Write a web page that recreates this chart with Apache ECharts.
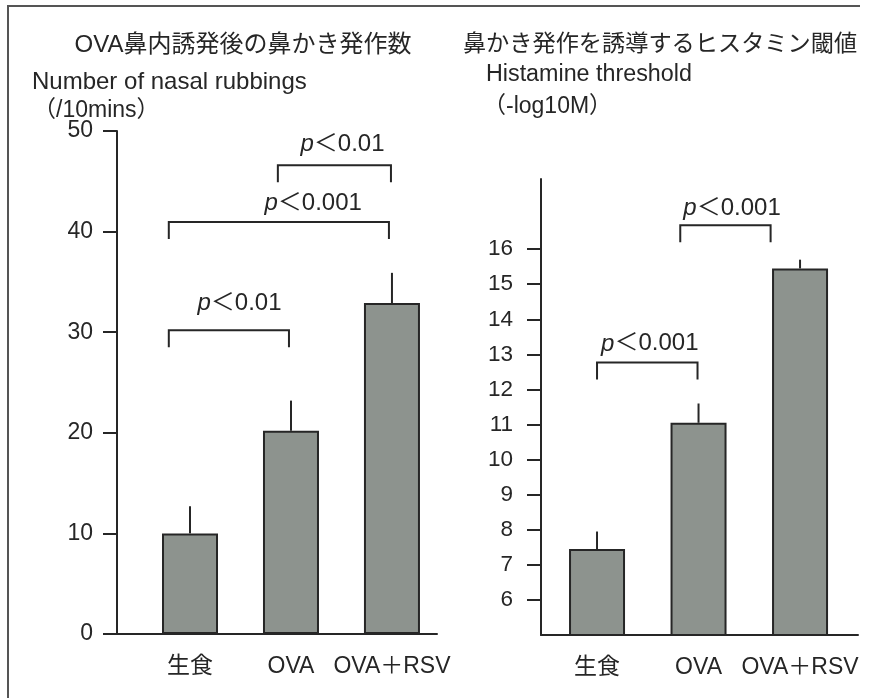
<!DOCTYPE html>
<html>
<head>
<meta charset="utf-8">
<script src="https://cdn.jsdelivr.net/npm/echarts@6/dist/echarts.min.js"></script>
<style>
  html, body { margin: 0; padding: 0; background: #ffffff; }
  #chart { width: 873px; height: 698px; }
</style>
</head>
<body>
<div id="chart"></div>
<script>
// Groups on the horizontal axis
const categories = ['生食', 'OVA', 'OVA＋RSV'];

// Nasal rubbings per 10 min: bar height and top of error whisker
const rubbingMean  = [10.0, 20.2, 32.9];
const rubbingUpper = [12.7, 23.2, 35.9];

// Histamine threshold (-log10 M): bar height and top of error whisker
const histMean  = [7.45, 11.05, 15.45];
const histUpper = [7.95, 11.6, 15.7];

// Tick labels
const rubbingTicks = [0, 10, 20, 30, 40, 50];
const histTicks = [6, 7, 8, 9, 10, 11, 12, 13, 14, 15, 16];

// Significance brackets: [left end, right end, bracket level, label x, label y, p text]
const rubbingBrackets = [
  [-0.21, 0.98, 30.2, 0.49, 32.9, '0.01'],
  [-0.21, 1.97, 40.95, 1.22, 42.8, '0.001'],
  [0.87, 1.99, 46.6, 1.51, 48.7, '0.01']
];
const histBrackets = [
  [0.0, 0.99, 12.77, 0.52, 13.3, '0.001'],
  [0.82, 1.71, 16.68, 1.33, 17.15, '0.001']
];

const INK = '#262626';
const BAR_FILL = '#8d938e';
const FONT = "'Liberation Sans', 'Noto Sans CJK JP', sans-serif";
const LEG = 17;

const chart = echarts.init(document.getElementById('chart'), null, { renderer: 'canvas' });

function xAxisFor(gridIndex, min, max) {
  return {
    type: 'value', gridIndex: gridIndex, min: min, max: max,
    axisLine: { show: true, onZero: false, lineStyle: { color: INK, width: 2 } },
    axisTick: { show: false },
    splitLine: { show: false },
    axisLabel: {
      customValues: [0, 1, 2],
      formatter: function (v) { return categories[Math.round(v)]; },
      margin: 21, fontSize: 23, color: INK, fontFamily: FONT
    }
  };
}

function errorSeries(axisIndex, mean, upper) {
  return {
    type: 'custom', xAxisIndex: axisIndex, yAxisIndex: axisIndex, z: 3,
    data: mean.map(function (m, i) { return [i, m, upper[i]]; }),
    renderItem: function (params, api) {
      const a = api.coord([api.value(0), api.value(1)]);
      const b = api.coord([api.value(0), api.value(2)]);
      return {
        type: 'line',
        shape: { x1: a[0], y1: a[1], x2: b[0], y2: b[1] },
        style: { stroke: INK, lineWidth: 2 }
      };
    }
  };
}

function bracketSeries(axisIndex, list) {
  return {
    type: 'custom', xAxisIndex: axisIndex, yAxisIndex: axisIndex, z: 4,
    data: list.map(function (b) { return [b[0], b[1], b[2], b[3], b[4]]; }),
    renderItem: function (params, api) {
      const p1 = api.coord([api.value(0), api.value(2)]);
      const p2 = api.coord([api.value(1), api.value(2)]);
      const lp = api.coord([api.value(3), api.value(4)]);
      const txt = list[params.dataIndex][5];
      return {
        type: 'group',
        children: [
          {
            type: 'polyline',
            shape: { points: [[p1[0], p1[1] + LEG], [p1[0], p1[1]], [p2[0], p2[1]], [p2[0], p2[1] + LEG]] },
            style: { stroke: INK, lineWidth: 2, fill: null }
          },
          {
            type: 'text', x: lp[0], y: lp[1],
            style: {
              text: '{i|p}{n|＜' + txt + '}',
              align: 'center', verticalAlign: 'middle',
              fill: INK, fontSize: 24, fontFamily: FONT,
              rich: {
                i: { fontStyle: 'italic', fontSize: 24, fontFamily: FONT, fill: INK },
                n: { fontSize: 24, fontFamily: FONT, fill: INK }
              }
            }
          }
        ]
      };
    }
  };
}

function headText(x, y, text, size, align) {
  return {
    type: 'text', x: x, y: y,
    style: {
      text: text, fill: INK, fontSize: size, fontFamily: FONT,
      align: align, verticalAlign: 'middle'
    }
  };
}

const option = {
  backgroundColor: '#ffffff',
  animation: false,
  textStyle: { fontFamily: FONT },
  graphic: [
    { type: 'polyline', shape: { points: [[8, 700], [8, 6], [860, 6]] }, style: { stroke: '#555', lineWidth: 2, fill: null } },
    headText(243, 45, 'OVA鼻内誘発後の鼻かき発作数', 24, 'center'),
    headText(660, 45, '鼻かき発作を誘導するヒスタミン閾値', 23.2, 'center'),
    headText(32, 82, 'Number of nasal rubbings', 24, 'left'),
    headText(33, 111, '（/10mins）', 23, 'left'),
    headText(486, 75, 'Histamine threshold', 23.3, 'left'),
    headText(483, 107, '（-log10M）', 23, 'left')
  ],
  grid: [
    { left: 117, top: 131, width: 320, height: 503 },
    { left: 541, top: 179, width: 317, height: 456 }
  ],
  xAxis: [
    xAxisFor(0, -0.723, 2.446),
    xAxisFor(1, -0.552, 2.571)
  ],
  yAxis: [
    {
      type: 'value', gridIndex: 0, min: 0, max: 50, interval: 10,
      axisLine: { show: true, onZero: false, lineStyle: { color: INK, width: 2 } },
      axisTick: { show: true, length: 14, customValues: rubbingTicks, lineStyle: { color: INK, width: 2 } },
      splitLine: { show: false },
      axisLabel: { customValues: rubbingTicks, margin: 24, fontSize: 23, color: INK, fontFamily: FONT }
    },
    {
      type: 'value', gridIndex: 1, min: 5, max: 18,
      axisLine: { show: true, onZero: false, lineStyle: { color: INK, width: 2 } },
      axisTick: { show: true, length: 14, customValues: histTicks, lineStyle: { color: INK, width: 2 } },
      splitLine: { show: false },
      axisLabel: { customValues: histTicks, margin: 28, fontSize: 22.5, color: INK, fontFamily: FONT }
    }
  ],
  series: [
    {
      type: 'bar', xAxisIndex: 0, yAxisIndex: 0, barWidth: 56, z: 2,
      data: rubbingMean.map(function (v, i) { return [i, v]; }),
      itemStyle: { color: BAR_FILL, borderColor: INK, borderWidth: 2 }
    },
    {
      type: 'bar', xAxisIndex: 1, yAxisIndex: 1, barWidth: 56, z: 2,
      data: histMean.map(function (v, i) { return [i, v]; }),
      itemStyle: { color: BAR_FILL, borderColor: INK, borderWidth: 2 }
    },
    errorSeries(0, rubbingMean, rubbingUpper),
    errorSeries(1, histMean, histUpper),
    bracketSeries(0, rubbingBrackets),
    bracketSeries(1, histBrackets)
  ]
};

chart.setOption(option);
</script>
</body>
</html>
